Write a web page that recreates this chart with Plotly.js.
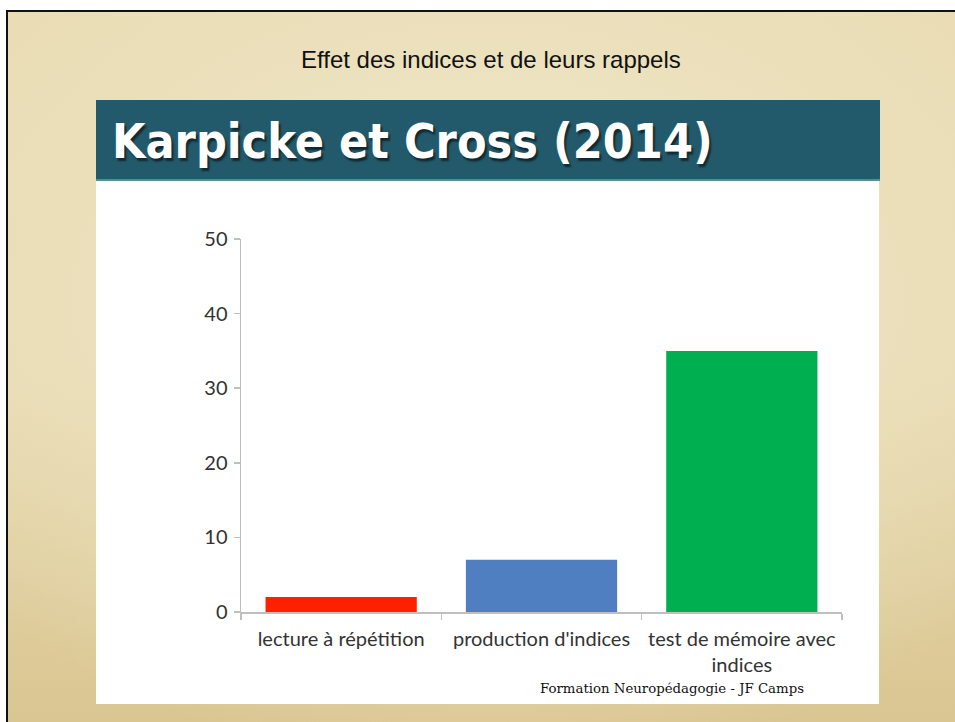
<!DOCTYPE html>
<html>
<head>
<meta charset="utf-8">
<script src="https://cdn.plot.ly/plotly-3.0.1.min.js"></script>
<style>
  html, body { margin: 0; padding: 0; background: #ffffff; width: 955px; height: 722px; overflow: hidden; }
  #slide {
    position: absolute; left: 6px; top: 10px; width: 960px; height: 720px;
    border-top: 2px solid #111; border-left: 2px solid #111;
    background:
      radial-gradient(ellipse 70% 65% at 50% 40%, rgba(244,237,212,0.95) 0%, rgba(238,228,194,0.6) 55%, rgba(220,203,150,0.0) 100%),
      linear-gradient(180deg, #e9dcb4 0%, #e8dbb3 50%, #d9c590 100%);
  }
  #chart { position: absolute; left: 0; top: 0; width: 955px; height: 722px; }
</style>
</head>
<body>
<div id="slide"></div>
<div id="chart"></div>
<script>
// ---- data ----
const categories = ["lecture à répétition", "production d'indices", "test de mémoire avec<br>indices"];
const values = [2, 7, 35];
const barColors = ["#ff2000", "#4f7fc0", "#00b050"];
const yTicks = [0, 10, 20, 30, 40, 50];
const pageTitle = "Effet des indices et de leurs rappels";
const bannerTitle = "Karpicke et Cross (2014)";
const footer = "Formation Neuropédagogie - JF Camps";

// ---- geometry helpers (page pixels -> paper coords) ----
const W = 955, H = 722;
const M = { l: 241, r: 113, t: 239, b: 110 };
const PW = W - M.l - M.r, PH = H - M.t - M.b;
const px = v => (v - M.l) / PW;
const py = v => (H - M.b - v) / PH;

const trace = {
  type: "bar",
  x: categories,
  y: values,
  marker: { color: barColors, line: { width: 0 } },
  hoverinfo: "x+y"
};

const layout = {
  width: W, height: H,
  margin: M,
  paper_bgcolor: "rgba(0,0,0,0)",
  plot_bgcolor: "rgba(0,0,0,0)",
  showlegend: false,
  bargap: 0.245,
  font: { family: "Lato, 'Open Sans', sans-serif", color: "#333333" },
  xaxis: {
    type: "category",
    showline: true, linecolor: "#bfbfbf", linewidth: 1.5,
    ticks: "outside", tickson: "boundaries", ticklen: 6, tickcolor: "#bfbfbf", tickwidth: 1.5,
    showgrid: false, zeroline: false,
    tickfont: { family: "Lato, 'Open Sans', sans-serif", size: 20, color: "#333333" },
    ticklabelstandoff: 8,
    fixedrange: true
  },
  yaxis: {
    range: [0, 50],
    tickvals: yTicks,
    showline: true, linecolor: "#bfbfbf", linewidth: 1.5,
    ticks: "outside", ticklen: 6, tickcolor: "#bfbfbf", tickwidth: 1.5,
    showgrid: false, zeroline: false,
    tickfont: { family: "Lato, 'Open Sans', sans-serif", size: 20, color: "#333333" },
    ticklabelstandoff: 2,
    fixedrange: true
  },
  shapes: [
    // white content panel
    { type: "rect", xref: "paper", yref: "paper", layer: "below",
      x0: px(96), x1: px(879), y0: py(704), y1: py(179),
      fillcolor: "#ffffff", line: { width: 0 } },
    // teal banner
    { type: "rect", xref: "paper", yref: "paper", layer: "below",
      x0: px(96), x1: px(880), y0: py(181), y1: py(100),
      fillcolor: "#235a6b", line: { width: 0 } },
    { type: "line", xref: "paper", yref: "paper", layer: "below",
      x0: px(96), x1: px(880), y0: py(180), y1: py(180),
      line: { color: "#6f9aa6", width: 1.5 } }
  ],
  annotations: [
    { text: pageTitle, xref: "paper", yref: "paper", x: px(491), y: py(60),
      xanchor: "center", yanchor: "middle", showarrow: false,
      font: { family: "'Liberation Sans', Arial, sans-serif", size: 24, color: "#111111" } },
    { text: "<b>" + bannerTitle + "</b>", xref: "paper", yref: "paper", x: px(110), y: py(141),
      xanchor: "left", yanchor: "middle", showarrow: false,
      font: { family: "'DejaVu Sans Condensed', 'DejaVu Sans', sans-serif", size: 48, color: "#ffffff",
              shadow: "2px 3px 2px rgba(0,0,0,0.55)" } },
    { text: footer, xref: "paper", yref: "paper", x: px(538), y: py(688),
      xanchor: "left", yanchor: "middle", showarrow: false,
      font: { family: "'DejaVu Serif', 'Liberation Serif', serif", size: 13.3, color: "#111111" } }
  ]
};

Plotly.newPlot("chart", [trace], layout, { displayModeBar: false, staticPlot: true });
</script>
</body>
</html>
